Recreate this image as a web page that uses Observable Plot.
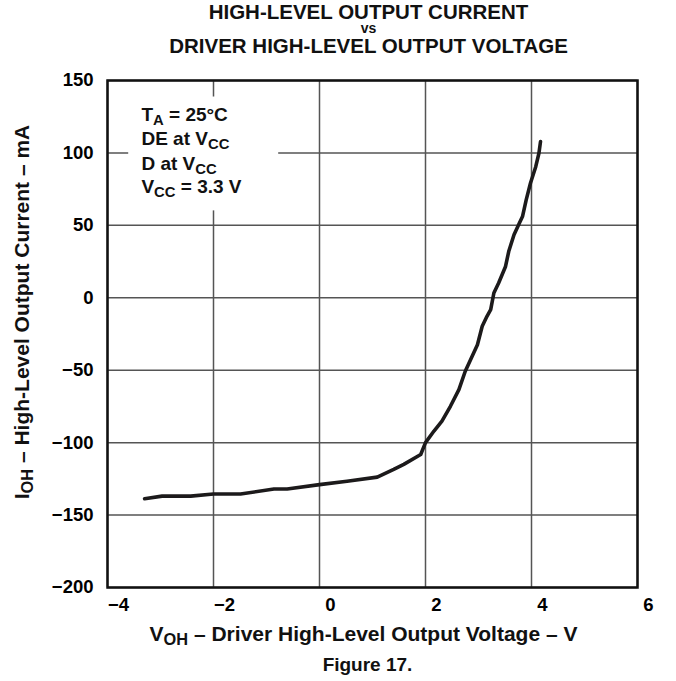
<!DOCTYPE html>
<html>
<head>
<meta charset="utf-8">
<script src="https://cdn.jsdelivr.net/npm/d3@7"></script>
<script src="https://cdn.jsdelivr.net/npm/@observablehq/plot@0.6"></script>
<style>
  html, body { margin: 0; padding: 0; background: #fff; }
  #chart svg { display: block; }
</style>
</head>
<body>
<div id="chart"></div>
<script>
// ---- data ----
const voltage = [-3.30, -2.97, -2.43, -2.00, -1.49, -0.86, -0.61, 0.00, 0.52, 1.09, 1.40, 1.59, 1.91, 2.00, 2.16, 2.31, 2.47, 2.63, 2.75, 2.85, 2.98, 3.07, 3.16, 3.23, 3.29, 3.38, 3.51, 3.57, 3.67, 3.77, 3.83, 3.90, 3.98, 4.08, 4.14, 4.17];
const current = [-138.7, -136.9, -136.9, -135.5, -135.5, -132.0, -132.0, -129.0, -126.6, -123.8, -118.5, -115.0, -108.2, -100.0, -92.0, -85.2, -74.9, -63.4, -50.7, -42.7, -32.4, -19.7, -12.8, -8.2, 3.3, 10.2, 21.6, 31.9, 43.5, 51.5, 56.1, 67.6, 79.1, 90.5, 99.8, 107.8];

const xTicks = [-4, -2, 0, 2, 4, 6];
const yTicks = [-200, -150, -100, -50, 0, 50, 100, 150];

const titleLines = ["HIGH-LEVEL OUTPUT CURRENT", "vs", "DRIVER HIGH-LEVEL OUTPUT VOLTAGE"];
const xLabel = "V_{OH} – Driver High-Level Output Voltage – V";
const yLabel = "I_{OH} – High-Level Output Current – mA";
const caption = "Figure 17.";
const noteLines = ["T_{A} = 25°C", "DE at V_{CC}", "D at V_{CC}", "V_{CC} = 3.3 V"];
const noteY = [126.5, 109.5, 92.5, 76.5];
const noteX = -3.36;
const noteBox = {x1: -3.60, x2: -0.77, y1: 60, y2: 138.6};

const rows = voltage.map((v, i) => ({v, c: current[i]}));
const FONT = "'Liberation Sans', Arial, Helvetica, sans-serif";
const INK = "#111";

const chart = Plot.plot({
  width: 676,
  height: 681,
  marginLeft: 107,
  marginRight: 39,
  marginTop: 80,
  marginBottom: 94,
  style: {fontFamily: FONT, fontWeight: "bold", color: "#000", background: "#fff"},
  x: {domain: [-4, 6]},
  y: {domain: [-200, 150]},
  marks: [
    Plot.gridX(xTicks, {stroke: "#555", strokeOpacity: 1, strokeWidth: 1.5}),
    Plot.gridY(yTicks, {stroke: "#555", strokeOpacity: 1, strokeWidth: 1.5}),
    Plot.rect([noteBox], {x1: "x1", x2: "x2", y1: "y1", y2: "y2", fill: "white"}),
    Plot.frame({stroke: INK, strokeWidth: 2.5}),
    Plot.line(rows, {x: "v", y: "c", stroke: "#1c1a1b", strokeWidth: 3.6, strokeLinejoin: "round", strokeLinecap: "round"}),
    Plot.axisX(xTicks, {tickSize: 0, tickPadding: 10, dx: 11, fontSize: 18.5, fontWeight: "bold", label: null}),
    Plot.axisY(yTicks, {tickSize: 0, tickPadding: 14, fontSize: 18.5, fontWeight: "bold", label: null}),
    Plot.text(noteLines, {x: noteX, y: noteY, text: d => d, textAnchor: "start", lineAnchor: "middle", fontSize: 19, fontWeight: "bold", fill: INK}),
    Plot.text([titleLines[0]], {frameAnchor: "top", lineAnchor: "middle", textAnchor: "middle", dy: -68, dx: -4, fontSize: 20.5, fontWeight: "bold", fill: INK}),
    Plot.text([titleLines[1]], {frameAnchor: "top", lineAnchor: "middle", textAnchor: "middle", dy: -52, dx: -4, fontSize: 14, fontWeight: "bold", fill: INK}),
    Plot.text([titleLines[2]], {frameAnchor: "top", lineAnchor: "middle", textAnchor: "middle", dy: -34, dx: -4, fontSize: 20.5, fontWeight: "bold", fill: INK}),
    Plot.text([xLabel], {frameAnchor: "bottom", lineAnchor: "middle", textAnchor: "middle", dy: 47, dx: -9, fontSize: 21, fontWeight: "bold", fill: INK}),
    Plot.text([caption], {frameAnchor: "bottom", lineAnchor: "middle", textAnchor: "middle", dy: 77, dx: -5, fontSize: 19, fontWeight: "bold", fill: INK}),
    Plot.text([yLabel], {frameAnchor: "left", lineAnchor: "middle", textAnchor: "middle", dx: -85, dy: -22, rotate: -90, fontSize: 21, fontWeight: "bold", fill: INK})
  ]
});

// turn "X_{sub}" markup into real subscript tspans
const NS = "http://www.w3.org/2000/svg";
d3.select(chart).selectAll("text").each(function() {
  const s = this.textContent;
  if (!s.includes("_{")) return;
  while (this.firstChild) this.removeChild(this.firstChild);
  const parts = s.split(/(_\{[^}]*\})/).filter(p => p.length);
  let shifted = false;
  for (const p of parts) {
    const ts = document.createElementNS(NS, "tspan");
    if (p.startsWith("_{")) {
      ts.textContent = p.slice(2, -1);
      ts.setAttribute("font-size", "0.78em");
      ts.setAttribute("dy", "4");
      shifted = true;
    } else {
      ts.textContent = p;
      if (shifted) { ts.setAttribute("dy", "-4"); shifted = false; }
    }
    this.appendChild(ts);
  }
});

document.getElementById("chart").appendChild(chart);
</script>
</body>
</html>
